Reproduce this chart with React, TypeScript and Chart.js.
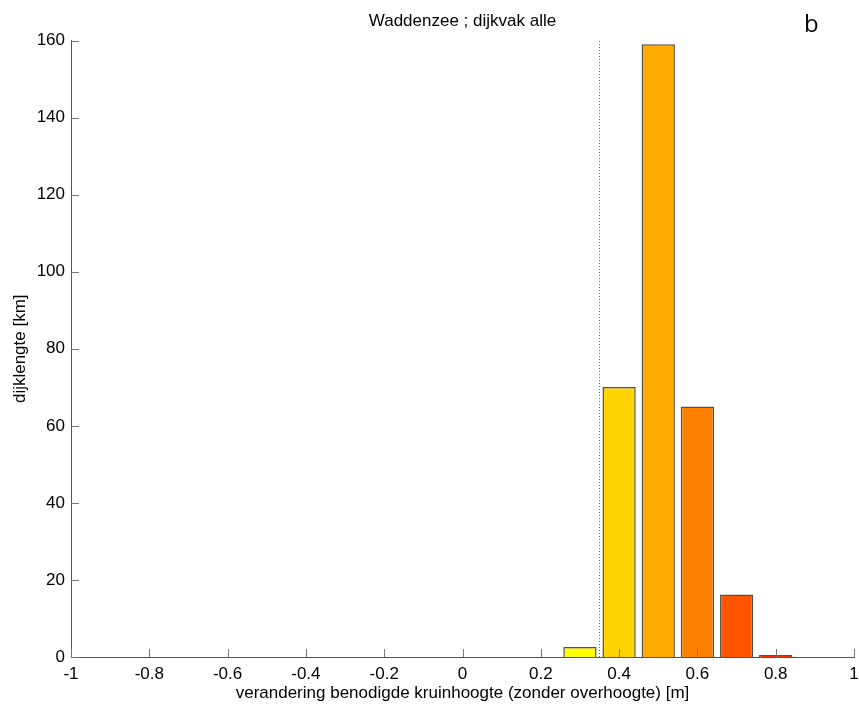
import React, { useEffect, useRef } from "react";
import { Chart, registerables } from "chart.js";

Chart.register(...registerables);

const binCenters = [0.3, 0.4, 0.5, 0.6, 0.7, 0.8];
const lengthsKm = [2.6, 70.1, 159, 65, 16.2, 0.5];
const barColors = ["#ffff00", "#ffd400", "#ffaa00", "#ff8000", "#ff5500", "#ff2a00"];
const meanLineX = 0.35;
const xTickValues = [-1, -0.8, -0.6, -0.4, -0.2, 0, 0.2, 0.4, 0.6, 0.8, 1];
const yTickValues = [0, 20, 40, 60, 80, 100, 120, 140, 160];

const FONT = "'Liberation Sans', Arial, sans-serif";

const innerTicks = {
  id: "innerTicks",
  afterDatasetsDraw(chart: any) {
    const { ctx, chartArea, scales } = chart;
    const xs = scales.x;
    const ys = scales.y;
    ctx.save();
    ctx.strokeStyle = "#777";
    ctx.lineWidth = 1;
    const len = 8;
    xTickValues.forEach((v) => {
      const px = Math.round(xs.getPixelForValue(v)) + 0.5;
      ctx.beginPath();
      ctx.moveTo(px, chartArea.bottom);
      ctx.lineTo(px, chartArea.bottom - len);
      ctx.stroke();
    });
    yTickValues.forEach((v) => {
      const py = Math.round(ys.getPixelForValue(v)) + 0.5;
      ctx.beginPath();
      ctx.moveTo(chartArea.left, py);
      ctx.lineTo(chartArea.left + len, py);
      ctx.stroke();
    });
    ctx.fillStyle = "#000";
    ctx.font = "24px 'Open Sans', 'DejaVu Sans', sans-serif";
    ctx.textBaseline = "alphabetic";
    ctx.textAlign = "left";
    ctx.fillText("b", 804, 32);
    ctx.restore();
  },
};

export default function App() {
  const ref = useRef<HTMLCanvasElement>(null);
  useEffect(() => {
    if (!ref.current) return;
    const chart = new Chart(ref.current, {
      type: "bar",
      data: {
        datasets: [
          {
            type: "bar",
            data: binCenters.map((x, i) => ({ x, y: lengthsKm[i] })),
            backgroundColor: barColors,
            borderColor: "#5a5047",
            borderWidth: 1.5,
            barPercentage: 0.85,
            categoryPercentage: 1,
          } as any,
          {
            type: "line",
            data: [
              { x: meanLineX, y: 0 },
              { x: meanLineX, y: 160 },
            ],
            borderColor: "#666",
            borderWidth: 1,
            borderDash: [1, 2],
            pointRadius: 0,
            fill: false,
          } as any,
        ],
      },
      options: {
        animation: false,
        responsive: false,
        maintainAspectRatio: false,
        layout: { padding: { left: 0, right: 5, top: 0, bottom: 0 } },
        plugins: {
          legend: { display: false },
          tooltip: { enabled: false },
          title: {
            display: true,
            text: "Waddenzee ; dijkvak alle",
            fullSize: false,
            color: "#000",
            font: { family: FONT, size: 17, weight: "normal", lineHeight: 1.2 },
            padding: { top: 11.5, bottom: 8.6 },
          },
        },
        scales: {
          x: {
            type: "linear",
            min: -1,
            max: 1,
            offset: false,
            grid: { display: false, drawTicks: false },
            border: { display: true, color: "#555", width: 1 },
            afterBuildTicks: (s: any) => {
              s.ticks = xTickValues.map((v) => ({ value: v }));
            },
            afterFit: (s: any) => {
              s.height = 52;
              s.paddingRight = 0;
              s.paddingLeft = 0;
            },
            ticks: {
              autoSkip: false,
              maxRotation: 0,
              padding: 7,
              color: "#000",
              font: { family: FONT, size: 17 },
              callback: (v: any) => String(Math.round(Number(v) * 10) / 10),
            },
            title: {
              display: true,
              text: "verandering benodigde kruinhoogte (zonder overhoogte) [m]",
              color: "#000",
              font: { family: FONT, size: 17, lineHeight: 1.2 },
              padding: { top: 0, bottom: 5 },
            },
          },
          y: {
            type: "linear",
            min: 0,
            max: 160,
            grid: { display: false, drawTicks: false },
            border: { display: true, color: "#555", width: 1 },
            afterBuildTicks: (s: any) => {
              s.ticks = yTickValues.map((v) => ({ value: v }));
            },
            afterFit: (s: any) => {
              s.width = 71;
            },
            ticks: {
              autoSkip: false,
              padding: 6,
              color: "#000",
              font: { family: FONT, size: 17 },
            },
            title: {
              display: true,
              text: "dijklengte [km]",
              color: "#000",
              font: { family: FONT, size: 17, lineHeight: 1.2 },
              padding: { top: 10, bottom: 0 },
            },
          },
        },
      },
      plugins: [innerTicks],
    });
    return () => chart.destroy();
  }, []);
  return (
    <div style={{ position: "absolute", left: 0, top: 0, width: 859, height: 709, background: "#fff" }}>
      <canvas ref={ref} width={859} height={709} style={{ display: "block" }} />
    </div>
  );
}
